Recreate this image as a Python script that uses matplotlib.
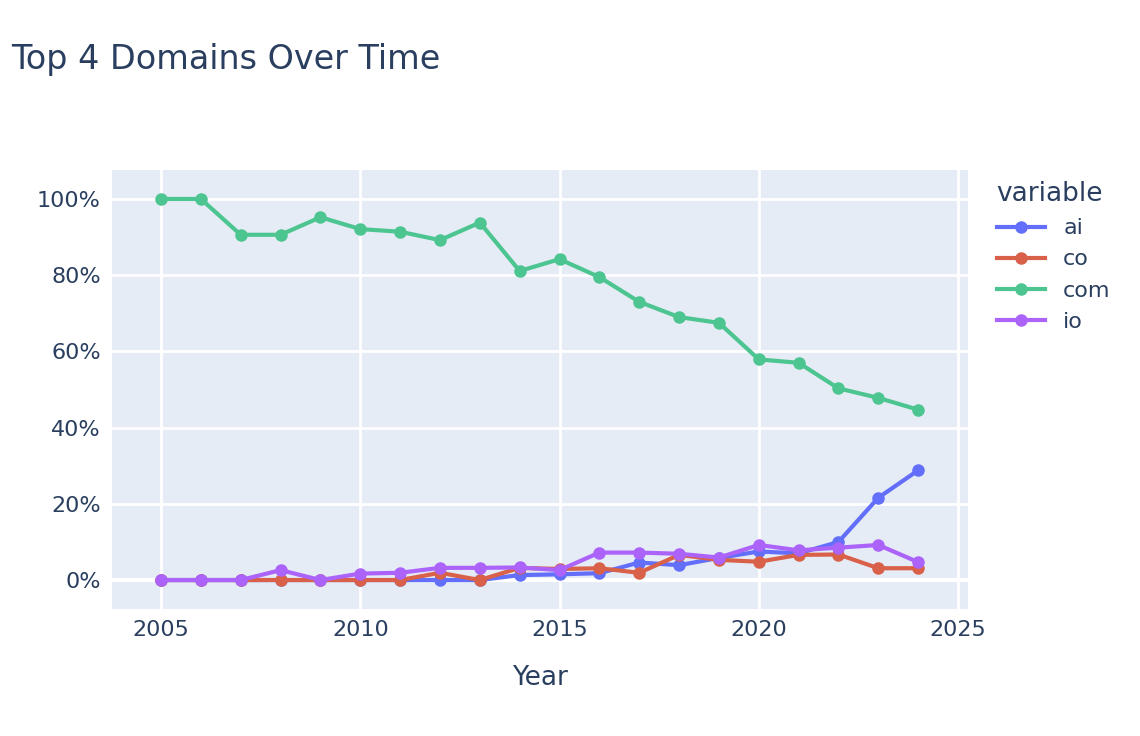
import matplotlib
matplotlib.use("Agg")
import matplotlib.pyplot as plt
from matplotlib.ticker import FuncFormatter

years = list(range(2005, 2025))
ai = [0,0,0,0,0,0,0,0,0,1.3,1.5,1.8,4.6,3.9,5.8,7.5,7.0,10.0,21.6,28.8]
co = [0,0,0,0,0,0,0,1.9,0,3.2,2.9,3.1,1.9,6.6,5.3,4.8,6.6,6.7,3.1,3.1]
com = [100,100,90.6,90.6,95.2,92.1,91.4,89.2,93.8,81.1,84.2,79.5,73.0,69.0,67.5,57.9,57.0,50.3,47.8,44.7]
io = [0,0,0,2.6,0,1.7,1.9,3.2,3.2,3.3,2.6,7.2,7.2,6.9,5.9,9.2,7.8,8.5,9.2,4.7]
series = [("ai", ai, "#636EFA"), ("co", co, "#EF553B"), ("com", com, "#00CC96"), ("io", io, "#AB63FA")]
co_fix = co[:]  # co 2012 value
co_fix[7] = 1.9

fig = plt.figure(figsize=(11.4, 7.36), dpi=100)
ax = fig.add_axes([112/1140, 1-609/736, (968-112)/1140, (609-170)/736])
ax.set_facecolor("#E5ECF6")
txt = "#2A3F5F"
for name, vals, c in series:
    c2 = {"#00CC96": "#4DC591", "#EF553B": "#D9614A"}.get(c, c)
    ax.plot(years, vals, color=c2, lw=3, marker="o", ms=8, label=name, zorder=3)
ax.set_xlim(2003.77, 2025.25)
ax.set_ylim(-7.6, 107.6)
ax.set_xticks([2005, 2010, 2015, 2020, 2025])
ax.set_yticks([0, 20, 40, 60, 80, 100])
ax.yaxis.set_major_formatter(FuncFormatter(lambda v, p: f"{int(v)}%"))
ax.grid(color="white", lw=2)
ax.axhline(0, color="white", lw=3, zorder=1)
ax.set_axisbelow(True)
for s in ax.spines.values():
    s.set_visible(False)
ax.tick_params(length=0, labelsize=16, colors=txt, pad=8)
ax.set_xlabel("Year", fontsize=19, color=txt, labelpad=18)
fig.text(11/1140, 1-60/736, "Top 4 Domains Over Time", fontsize=24, color=txt, va="center")
leg = ax.legend(loc="upper left", bbox_to_anchor=(1.01, 1.02), frameon=False, fontsize=16,
                title="variable", title_fontsize=19, labelcolor=txt, handlelength=2.2, alignment="left")
leg.get_title().set_color(txt)
fig.savefig("out.png", dpi=100)
